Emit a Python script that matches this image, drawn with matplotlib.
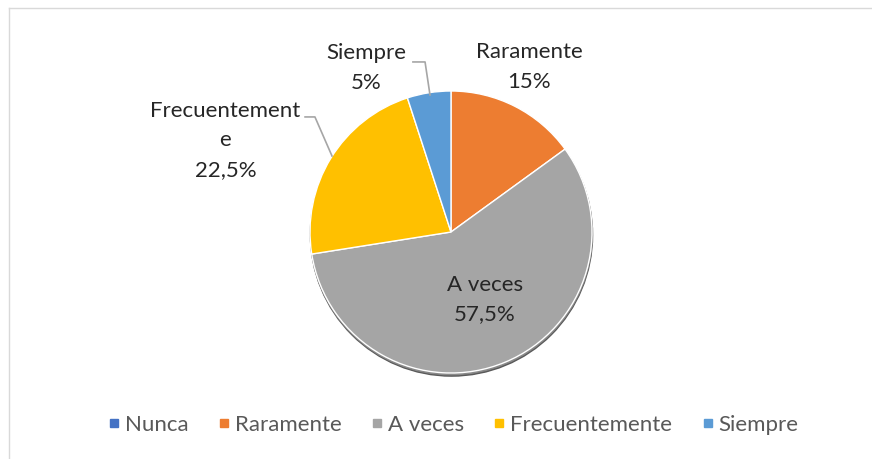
import matplotlib
matplotlib.use("Agg")
import matplotlib.pyplot as plt
from matplotlib.patches import Circle
from matplotlib.lines import Line2D

categories = ["Nunca", "Raramente", "A veces", "Frecuentemente", "Siempre"]
values = [0, 15, 57.5, 22.5, 5]
colors = ["#4472C4", "#ED7D31", "#A5A5A5", "#FFC000", "#5B9BD5"]
label_texts = {"Raramente": "Raramente\n15%", "A veces": "A veces\n57,5%",
               "Frecuentemente": "Frecuentement\ne\n22,5%", "Siempre": "Siempre\n5%"}

plt.rcParams['font.family'] = ['Lato', 'DejaVu Sans']

W, H = 872, 459
fig = plt.figure(figsize=(W / 100, H / 100), dpi=100)
ax = fig.add_axes([0, 0, 1, 1])
cx, cy, R = 451, 232, 141

# shadow
ax.add_patch(Circle((0.004, -0.022), 1.0, color='#5a5a5a', zorder=1))
ax.add_patch(Circle((0.002, -0.012), 1.0, color='#8a8a8a', zorder=1))

wedges, _ = ax.pie(values, colors=colors, startangle=90, counterclock=False,
                   radius=1.0, center=(0, 0), frame=True,
                   wedgeprops=dict(edgecolor='white', linewidth=1.0))
for w in wedges:
    w.set_zorder(2)
ax.set_xlim(-cx / R, (W - cx) / R)
ax.set_ylim(-(H - cy) / R, cy / R)
ax.set_aspect('auto')
ax.axis('off')

fs = 16
tc = '#262626'
ls = 1.6
ax.text(0.553, 1.17, label_texts["Raramente"], ha='center', va='center', fontsize=fs, color=tc, linespacing=ls)
ax.text(-0.60, 1.163, label_texts["Siempre"], ha='center', va='center', fontsize=fs, color=tc, linespacing=ls)
ax.text(-1.60, 0.65, label_texts["Frecuentemente"], ha='center', va='center', fontsize=fs, color=tc, linespacing=ls)
ax.text(0.24, -0.48, label_texts["A veces"], ha='center', va='center', fontsize=fs, color=tc, linespacing=ls, zorder=5)

# leader lines
ax.plot([-0.27, -0.184, -0.149], [1.206, 1.206, 0.972], color='#A6A6A6', lw=1.2, zorder=3)
ax.plot([-1.035, -0.965, -0.844], [0.816, 0.816, 0.539], color='#A6A6A6', lw=1.2, zorder=3)

# border
fig.add_artist(Line2D([9 / W, 1], [1 - 8 / H, 1 - 8 / H], color='#D9D9D9', lw=1))
fig.add_artist(Line2D([9 / W, 9 / W], [0, 1 - 8 / H], color='#D9D9D9', lw=1))

handles = [Line2D([], [], marker='s', linestyle='none', markersize=6, color=c) for c in colors]
fig.legend(handles, categories, loc='center', bbox_to_anchor=(452 / W, 1 - 425 / H), ncol=5,
           frameon=False, fontsize=16, labelcolor='#595959', handletextpad=0.1,
           columnspacing=1.18, handlelength=0.8)

fig.savefig("out.png", dpi=100)
